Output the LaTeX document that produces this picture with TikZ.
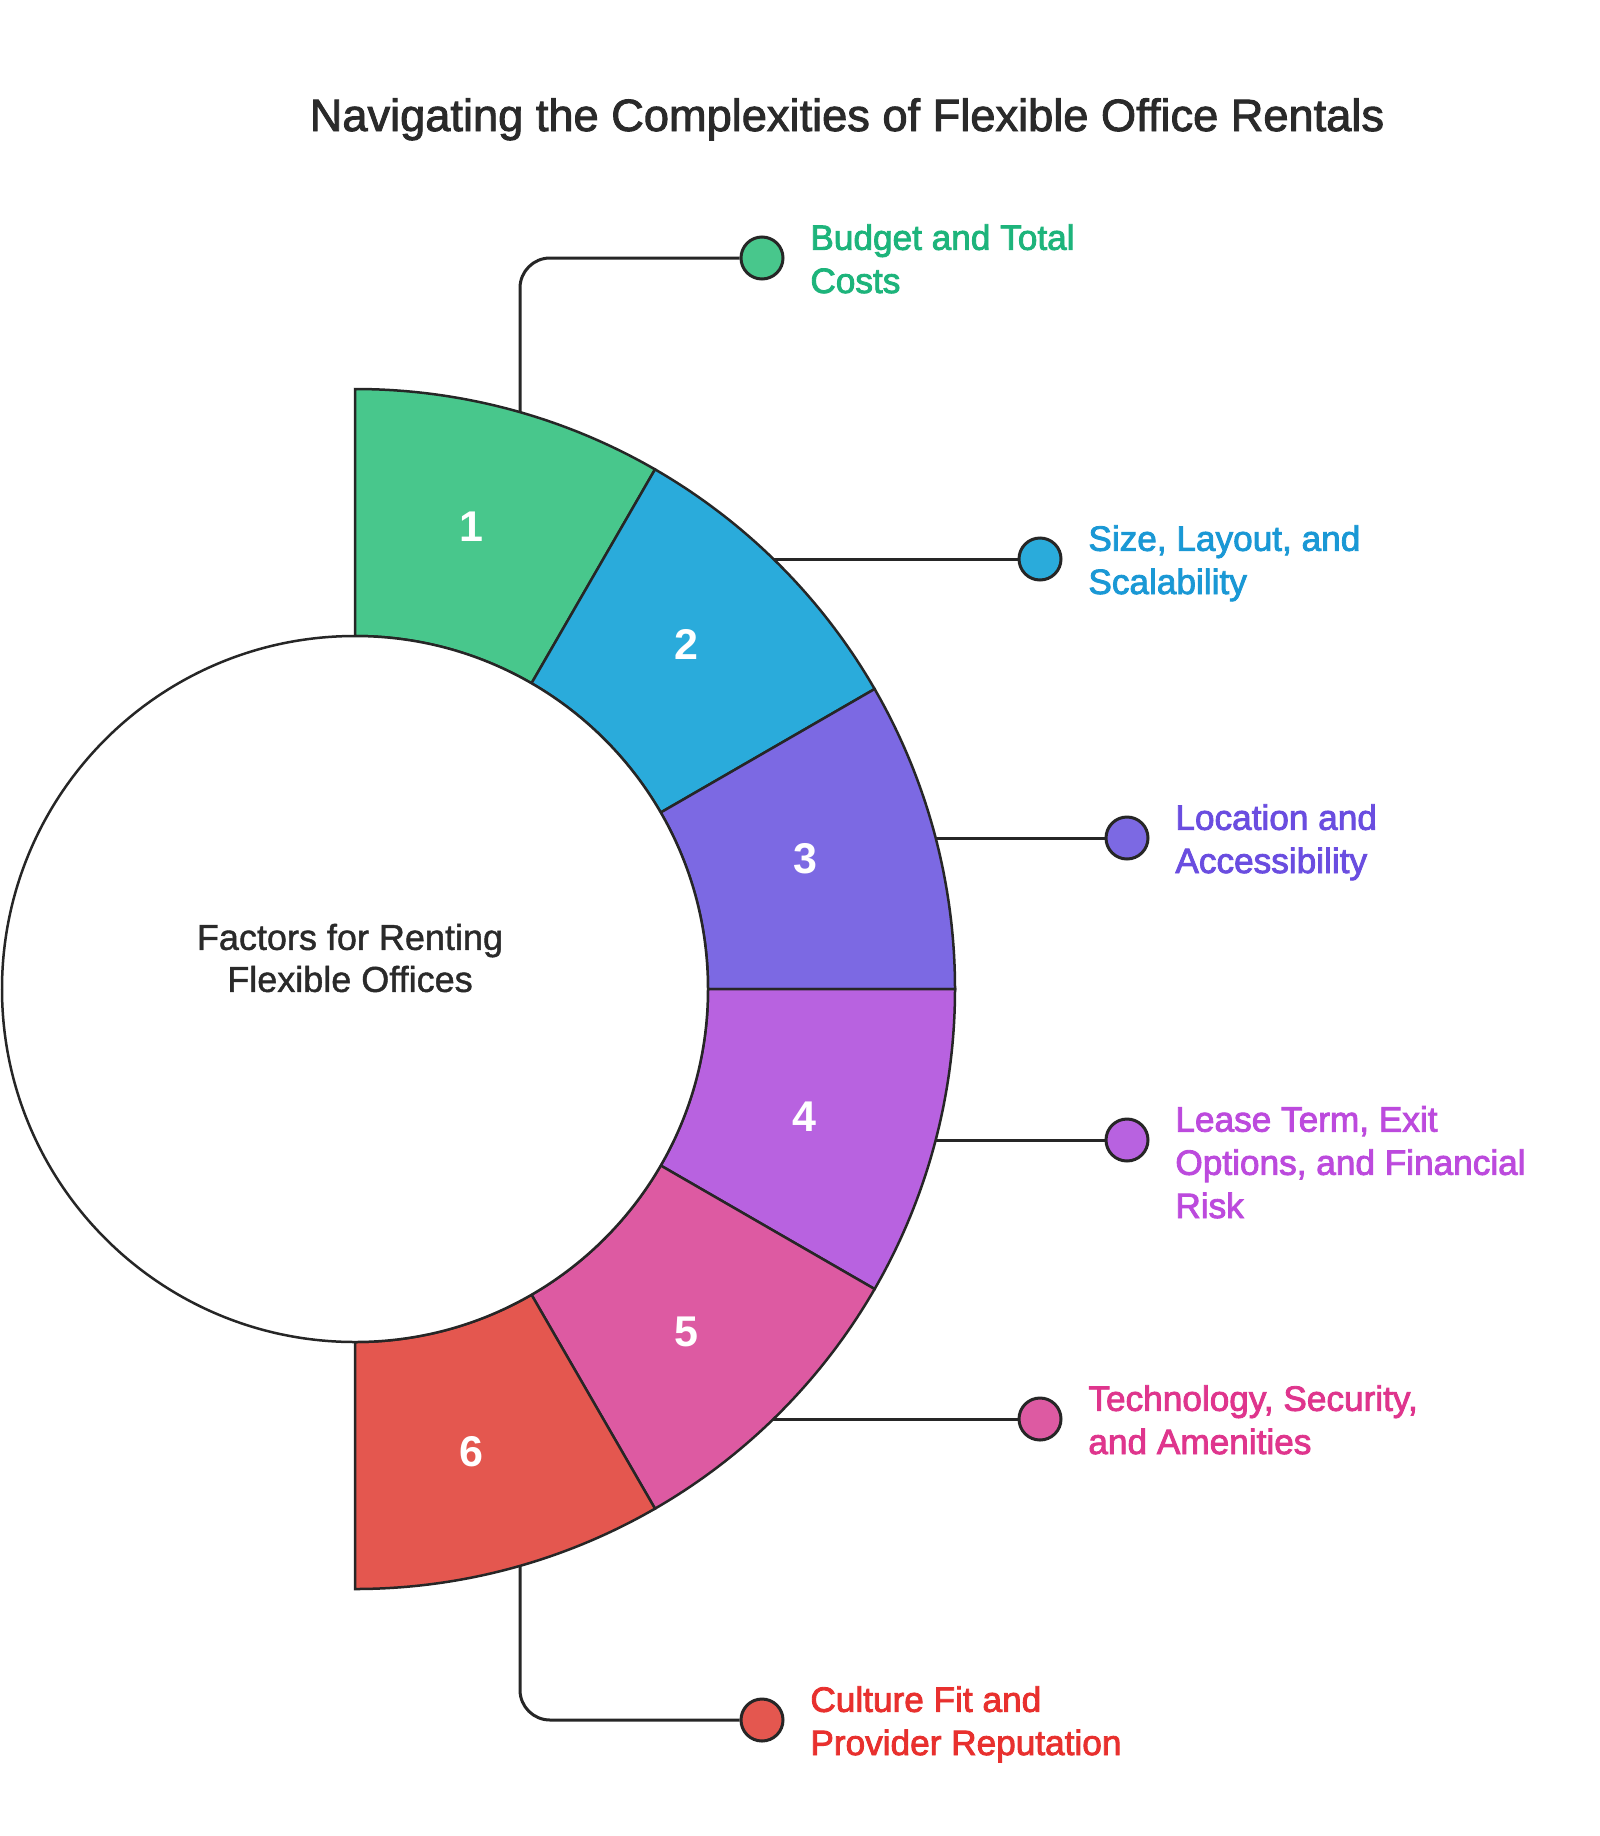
\documentclass[tikz,border=0pt]{standalone}
\usepackage{fontspec}
\setmainfont{Liberation Sans}
\newfontfamily\lblfont{Liberation Sans}[FakeBold=2.4]
\newfontfamily\titlefont{Liberation Sans}[FakeBold=2]
\newfontfamily\ctrfont{Liberation Sans}[FakeBold=1.2]
\newfontfamily\numfont{Liberation Sans Bold}
\definecolor{linec}{HTML}{262626}
\definecolor{textc}{HTML}{2A2A2A}
\definecolor{cA}{HTML}{48C78C}
\definecolor{cB}{HTML}{2AABDB}
\definecolor{cC}{HTML}{7C69E3}
\definecolor{cD}{HTML}{B862E0}
\definecolor{cE}{HTML}{DD5AA2}
\definecolor{cF}{HTML}{E4574F}
\definecolor{tA}{HTML}{1DB47B}
\definecolor{tB}{HTML}{1A98D5}
\definecolor{tC}{HTML}{6A4DE0}
\definecolor{tD}{HTML}{BC4ADD}
\definecolor{tE}{HTML}{DF358D}
\definecolor{tF}{HTML}{E8302E}
\begin{document}
\begin{tikzpicture}[x=0.5pt,y=-0.5pt,
  seg/.style={draw=linec, line width=1.25pt},
  conn/.style={draw=linec, line width=1.5pt},
  dot/.style={circle, draw=linec, line width=1.5pt, minimum size=21pt, inner sep=0pt},
  lbl/.style={anchor=base west, align=left, inner sep=0pt, font=\lblfont\fontsize{17.6pt}{21.6pt}\selectfont},
  num/.style={text=white, inner sep=0pt, font=\numfont\fontsize{21.5pt}{24pt}\selectfont}]
\useasboundingbox (0,0) rectangle (1600,1836);
\fill[white] (0,0) rectangle (1600,1836);
\coordinate (c) at (355,989);
% title
\node[anchor=base, inner sep=0pt, text=textc, font=\titlefont\fontsize{22.6pt}{26pt}\selectfont] (title) at (847,131) {Navigating the Complexities of Flexible Office Rentals};
% connector start points on the outer arc
\coordinate (p1) at (520,412);
\coordinate (p2) at (773,559);
\coordinate (p3) at (935,838);
\coordinate (p4) at (935,1140);
\coordinate (p5) at (773,1419);
\coordinate (p6) at (520,1566);
% dots
\node[dot, fill=cA] (d1) at (762,258) {};
\node[dot, fill=cB] (d2) at (1040,559) {};
\node[dot, fill=cC] (d3) at (1127,838) {};
\node[dot, fill=cD] (d4) at (1127,1140) {};
\node[dot, fill=cE] (d5) at (1040,1419) {};
\node[dot, fill=cF] (d6) at (762,1720) {};
% connectors
\draw[conn, rounded corners=15pt] (p1) |- (d1.west);
\draw[conn] (p2) -- (d2.west);
\draw[conn] (p3) -- (d3.west);
\draw[conn] (p4) -- (d4.west);
\draw[conn] (p5) -- (d5.west);
\draw[conn, rounded corners=15pt] (p6) |- (d6.west);
% segments
\foreach \i/\col in {1/cA,2/cB,3/cC,4/cD,5/cE,6/cF}{
  \pgfmathsetmacro{\aa}{-90+30*(\i-1)}
  \pgfmathsetmacro{\ab}{-60+30*(\i-1)}
  \draw[seg, fill=\col] ([shift={(\aa:600)}]c) arc[start angle=\aa, end angle=\ab, radius=600]
     -- ([shift={(\ab:353)}]c) arc[start angle=\ab, end angle=\aa, radius=353] -- cycle;
}
% inner circle
\draw[seg, fill=white] (c) circle[radius=353];
\node[align=center, inner sep=0pt, text=textc, font=\ctrfont\fontsize{18pt}{21pt}\selectfont] (center) at (350,958) {Factors for Renting\\Flexible Offices};
% numbers
\node[num] (n1) at (471,527) {1};
\node[num] (n2) at (686,644) {2};
\node[num] (n3) at (805,859) {3};
\node[num] (n4) at (804,1117) {4};
\node[num] (n5) at (686,1332) {5};
\node[num] (n6) at (471,1452) {6};
% labels (anchor = baseline of the last line)
\node[lbl, text=tA] (t1) at (810,293) {Budget and Total\\Costs};
\node[lbl, text=tB] (t2) at (1088,594) {Size, Layout, and\\Scalability};
\node[lbl, text=tC] (t3) at (1175,873) {Location and\\Accessibility};
\node[lbl, text=tD] (t4) at (1175,1218) {Lease Term, Exit\\Options, and Financial\\Risk};
\node[lbl, text=tE] (t5) at (1088,1454) {Technology, Security,\\and Amenities};
\node[lbl, text=tF] (t6) at (810,1755) {Culture Fit and\\Provider Reputation};
\end{tikzpicture}
\end{document}
